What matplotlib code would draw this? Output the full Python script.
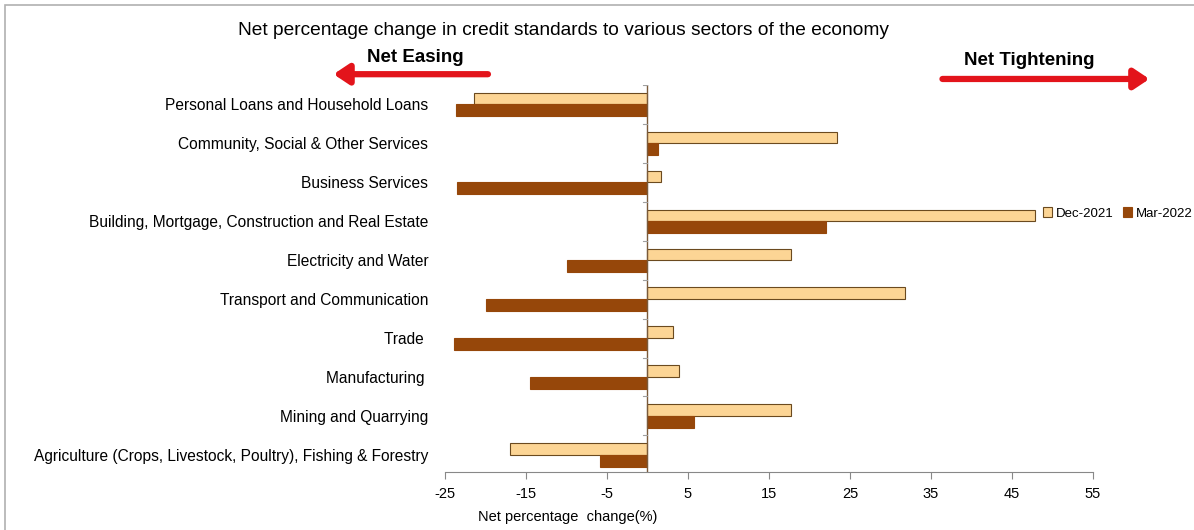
import numpy as np
import matplotlib
matplotlib.use("Agg")
from matplotlib import pyplot as plt
from matplotlib.patches import Rectangle, FancyArrowPatch

plt.rcParams['font.family'] = ['Liberation Sans', 'DejaVu Sans']

# sectors listed bottom to top
sectors = [
    "Agriculture (Crops, Livestock, Poultry), Fishing & Forestry",
    "Mining and Quarrying",
    "Manufacturing ",
    "Trade ",
    "Transport and Communication",
    "Electricity and Water",
    "Building, Mortgage, Construction and Real Estate",
    "Business Services",
    "Community, Social & Other Services",
    "Personal Loans and Household Loans",
]
dec_2021 = [-17.0, 17.7, 3.9, 3.1, 31.8, 17.7, 47.8, 1.7, 23.4, -21.4]
mar_2022 = [-5.9, 5.7, -14.5, -23.9, -19.9, -9.9, 22.0, -23.5, 1.3, -23.6]
xticks = [-25, -15, -5, 5, 15, 25, 35, 45, 55]

dec_color = '#FCD595'
mar_color = '#96470A'

fig = plt.figure(figsize=(11.94, 5.30), dpi=100)
fig.patch.set_facecolor('white')
fig.patches.append(Rectangle((0.004, -0.05), 1.2, 1.04, transform=fig.transFigure,
                             fill=False, edgecolor='#b0b0b0', lw=1.2))

ax = fig.add_axes([0.3727, 0.1094, 0.5427, 0.7302])
y = np.arange(len(sectors))
h = 0.3
ax.barh(y + h / 2, dec_2021, height=h, color=dec_color, edgecolor='#6b4a1f',
        lw=0.8, label='Dec-2021')
ax.barh(y - h / 2, mar_2022, height=h, color=mar_color, edgecolor=mar_color,
        lw=0.8, label='Mar-2022')

ax.set_xlim(-25, 55)
ax.set_ylim(-0.44, 9.5)
ax.set_xticks(xticks)
ax.set_xticklabels([str(t) for t in xticks], fontsize=10.5)
ax.set_yticks(y)
ax.set_yticklabels(sectors, fontsize=11.2)
ax.tick_params(axis='y', length=0, pad=12)
ax.tick_params(axis='x', length=5, color='#888888', pad=6)

for s in ['top', 'right', 'left']:
    ax.spines[s].set_visible(False)
ax.spines['bottom'].set_color('#888888')

# zero line with small category ticks
ax.axvline(0, color='#7a5a3a', lw=1.0)
for b in np.arange(-0.5, len(sectors), 1.0):
    ax.plot([-0.5, 0], [b, b], color='#a0a0a0', lw=0.8)

ax.set_xlabel('Net percentage  change(%)', fontsize=10.5)
ax.xaxis.set_label_coords(0.19, -0.098)

fig.text(0.472, 0.943, 'Net percentage change in credit standards to various sectors of the economy',
         ha='center', va='center', fontsize=13.8)
fig.text(0.348, 0.891, 'Net Easing', ha='center', va='center', fontsize=13.5, fontweight='bold')
fig.text(0.862, 0.885, 'Net Tightening', ha='center', va='center', fontsize=13.5, fontweight='bold')

fig.patches.append(FancyArrowPatch((0.411, 0.860), (0.277, 0.860), transform=fig.transFigure,
                                   arrowstyle='-|>,head_length=6,head_width=4',
                                   color='#e3141b', lw=4.5, mutation_scale=1.5))
fig.patches.append(FancyArrowPatch((0.787, 0.851), (0.965, 0.851), transform=fig.transFigure,
                                   arrowstyle='-|>,head_length=6,head_width=4',
                                   color='#e3141b', lw=4.5, mutation_scale=1.5))

fig.legend(loc='center left', bbox_to_anchor=(0.869, 0.597), ncol=2, frameon=False,
           fontsize=9.5, handlelength=0.7, handleheight=0.7, handletextpad=0.3,
           columnspacing=0.7, borderaxespad=0)

fig.savefig('out.png', dpi=100)
